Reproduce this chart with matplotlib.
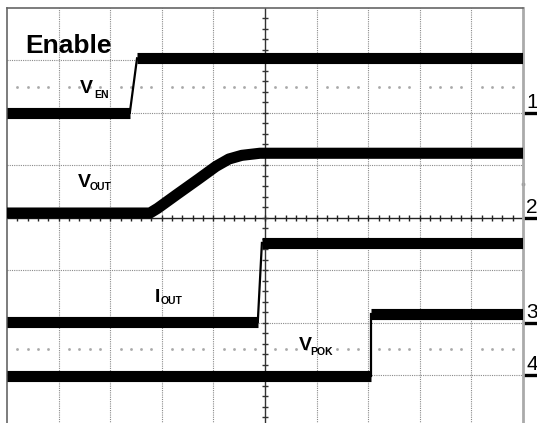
import numpy as np
import matplotlib.pyplot as plt

plt.rcParams['font.family'] = ['Liberation Sans', 'DejaVu Sans']

# scope screen: 10 x 8 divisions
# traces as breakpoints (x in div, y in div), edge = index of the thin transition segment
ven_x = [0, 2.38, 2.52, 10]
ven_y = [6.0, 6.0, 7.04, 7.04]
ven_edges = [1]

vout_x = [0, 2.77, 2.92, 3.30, 3.70, 4.05, 4.30, 4.55, 4.90, 10]
vout_y = [4.09, 4.09, 4.18, 4.45, 4.73, 4.98, 5.12, 5.19, 5.23, 5.23]
vout_edges = []

iout_x = [0, 4.86, 4.94, 10]
iout_y = [2.01, 2.01, 3.52, 3.52]
iout_edges = [1]

vpok_x = [0, 7.05, 7.05, 10]
vpok_y = [0.99, 0.99, 2.16, 2.16]
vpok_edges = [1]

channel_names = ['1', '2', '3', '4']
channel_levels = [6.0, 4.0, 2.0, 1.0]

fig = plt.figure(figsize=(5.37, 4.23), dpi=100)
ax = fig.add_axes([7/537, (423 - 427.5)/423, 516/537, 419.5/423])
ax.set_xlim(0, 10)
ax.set_ylim(0, 8)
ax.set_xticks([])
ax.set_yticks([])

# grid
for gx in range(1, 10):
    if gx != 5:
        ax.axvline(gx, color='#8a8a8a', lw=0.8, ls=(0, (1, 1)), zorder=1)
for gy in range(1, 8):
    if gy != 4:
        ax.axhline(gy, color='#8a8a8a', lw=0.8, ls=(0, (1, 1)), zorder=1)

# centre axes with minor ticks
ax.axvline(5, color='#333333', lw=1.0, zorder=2)
ax.axhline(4, color='#222222', lw=1.0, zorder=2)
minor = np.arange(0.2, 10, 0.2)
ax.plot(minor, np.full(len(minor), 4.0), ls='none', marker='|', ms=5, mew=1.0, color='#222222', zorder=2)
minor_y = np.arange(0.2, 8, 0.2)
ax.plot(np.full(len(minor_y), 5.0), minor_y, ls='none', marker='_', ms=5, mew=1.0, color='#333333', zorder=2)

# sparse dotted reference rows
dots = np.array([v for v in np.arange(0.2, 10, 0.2) if abs(v - round(v)) > 0.05])
for ry in [6.5, 1.5]:
    ax.plot(dots, np.full(len(dots), ry), ls='none', marker='s', ms=0.9, color='#a8a8a8', zorder=1)

def draw_trace(xs, ys, edges):
    if not edges:
        ax.plot(xs, ys, color='black', lw=8, solid_capstyle='butt',
                solid_joinstyle='round', zorder=4)
        return
    for i in range(len(xs) - 1):
        seg_x = [xs[i], xs[i + 1]]
        seg_y = [ys[i], ys[i + 1]]
        if i in edges:
            ax.plot(seg_x, seg_y, color='black', lw=1.6, zorder=4)
        else:
            ax.plot(seg_x, seg_y, color='black', lw=8, solid_capstyle='butt', zorder=4)

draw_trace(ven_x, ven_y, ven_edges)
draw_trace(vout_x, vout_y, vout_edges)
draw_trace(iout_x, iout_y, iout_edges)
draw_trace(vpok_x, vpok_y, vpok_edges)

# labels
ax.text(0.35, 7.14, 'Enable', fontsize=19, fontweight='bold', va='baseline', zorder=5)
ax.text(1.415, 6.38, 'V', fontsize=14, fontweight='bold', va='baseline')
ax.text(1.70, 6.28, 'EN', fontsize=7.5, fontweight='bold', va='baseline')
ax.text(1.376, 4.59, 'V', fontsize=14, fontweight='bold', va='baseline')
ax.text(1.60, 4.52, 'OUT', fontsize=7.5, fontweight='bold', va='baseline')
ax.text(2.87, 2.40, 'I', fontsize=14, fontweight='bold', va='baseline')
ax.text(2.97, 2.36, 'OUT', fontsize=7.5, fontweight='bold', va='baseline')
ax.text(5.66, 1.48, 'V', fontsize=14, fontweight='bold', va='baseline')
ax.text(5.88, 1.39, 'POK', fontsize=7.5, fontweight='bold', va='baseline')

# channel markers on the right edge
for name, lvl in zip(channel_names, channel_levels):
    ax.plot([10.0, 10.4], [lvl, lvl], color='black', lw=2.4, solid_capstyle='butt', clip_on=False)
    ax.text(10.06, lvl + 0.09, name, fontsize=15, va='baseline', ha='left', clip_on=False)
ax.plot([10.0], [4.65], marker='s', ms=1.5, color='#444444', clip_on=False)

for side in ['left', 'top']:
    ax.spines[side].set_color('#666666')
    ax.spines[side].set_linewidth(1.2)
ax.spines['right'].set_color('#aaaaaa')
ax.spines['right'].set_linewidth(2.0)
ax.spines['bottom'].set_visible(False)

fig.savefig('out.png', dpi=100)
